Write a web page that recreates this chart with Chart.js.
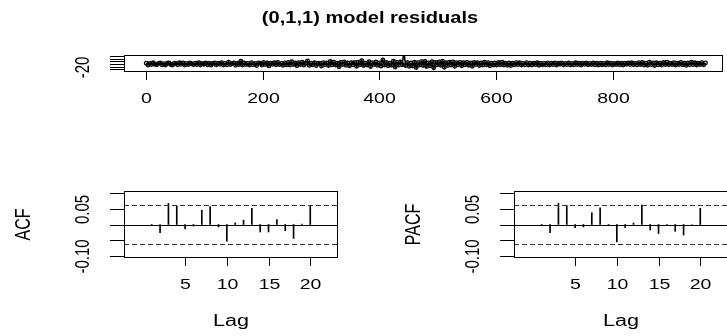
<!DOCTYPE html>
<html>
<head>
<meta charset="utf-8">
<script src="https://cdn.jsdelivr.net/npm/chart.js@4.4.0/dist/chart.umd.min.js"></script>
<style>
  html, body { margin: 0; padding: 0; background: #fff; }
  #wrap { position: relative; width: 727px; height: 336px; overflow: hidden; background: #fff; }
  #wrap canvas { position: absolute; left: 0; top: 0; }
  #title {
    position: absolute; left: 370px; top: 8px; white-space: nowrap;
    font: bold 17px "Liberation Sans", Arial, sans-serif; line-height: 20px; color: #000;
    transform: translateX(-50%) scaleX(1.18);
  }
</style>
</head>
<body>
<div id="wrap">
  <canvas id="resid" width="740" height="336"></canvas>
  <canvas id="acf" width="740" height="336"></canvas>
  <canvas id="pacf" width="740" height="336"></canvas>
  <div id="title">(0,1,1) model residuals</div>
</div>
<script>
// residuals, one reading every 3 time steps
const residStep = 3;
const residuals = [
  6, -8, 3, -5, 9, -2, -7, 4, 8, -6, 2, -9, 5, 7, -4, -8, 6, 3, -6, 9,
  -3, 7, -9, 4, -5, 8, 2, -7, 6, -4, 9, -8, 3, -2, 7, -6, 5, -9, 4, 8,
  -7, 5, -3, 9, -8, 4, -6, 14, -5, 3, 8, -10, 6, -4, 22, -9, 7, -5, 4, -8,
  10, -6, 3, -12, 8, 5, -9, 12, -4, 7, -15, 6, -3, 9, -7, 11, -5, 4, -10, 8,
  -6, 12, -9, 18, -4, 7, -13, 10, -5, 14, -8, 6, 24, -11, 5, -7, 9, -12, 6, 3,
  -16, 10, -5, 8, -12, 20, -6, 14, -9, 5, -22, 12, -4, 16, -10, 7, -14, 9, -6, 11,
  -18, 14, -7, 26, -12, 6, -9, 18, -20, 10, -5, 15, -11, 8, -16, 30, -8, 12, -14, 6,
  -10, 22, -24, 12, -8, 16, -6, 90, -12, 10, -18, 8, -16, 14, -28, 10, -9, 18, -12, 20,
  -20, 8, -14, 18, -30, 12, -6, 16, -10, 22, -26, 9, -12, 14, -8, 15, -18, 10, -6, 12,
  -14, 9, -6, 12, -10, 8, -18, 11, -5, 9, -12, 7, -8, 13, -6, 10, -14, 6, -9, 8,
  -9, 11, -6, 14, -8, 5, -10, 8, -12, 6, -7, 10, -5, 9, -8, 4, -6, 10, -9, 5,
  -8, 6, -4, 9, -10, 5, -7, 4, -6, 8, -9, 6, -4, 7, -8, 5, -3, 8, -6, 4,
  -5, 7, -8, 4, -6, 9, -4, 5, -9, 6, -3, 8, -7, 4, -5, 7, -6, 5, -8, 6,
  -7, 4, -6, 9, -5, 6, -8, 3, -4, 8, -6, 5, -9, 6, -3, 7, -5, 9, -6, 4,
  -6, 10, -4, 12, -8, 6, -10, 14, -5, 8, -12, 9, -6, 5, -8, 11, -4, 13, -7, 6,
  -5, 10, -9, 6, -4, 12, -7, 5, -10, 8, -6, 14, -5, 9, -8, 6, -4, 10, -7, 8
];
const residXTicks = [0, 200, 400, 600, 800];
const residYTicks = [-40, -20, 0, 20, 40, 60];
const residYTickLabels = ['', '-20', '', '', '', ''];

const lags = [1, 2, 3, 4, 5, 6, 7, 8, 9, 10, 11, 12, 13, 14, 15, 16, 17, 18, 19, 20];
const acfValues = [-0.003, -0.026, 0.068, 0.060, -0.014, -0.005, 0.046, 0.057, -0.008, -0.054,
                   0.005, 0.014, 0.052, -0.024, -0.024, 0.016, -0.020, -0.045, 0.001, 0.060];
const pacfValues = [-0.003, -0.026, 0.068, 0.061, -0.010, -0.008, 0.038, 0.054, -0.002, -0.056,
                    -0.010, 0.005, 0.063, -0.018, -0.029, -0.002, -0.022, -0.034, 0.000, 0.052];
const ciBound = 0.0636;
const lagTicks = [5, 10, 15, 20];
const corrTicks = [-0.10, -0.05, 0, 0.05, 0.10];
const corrTickLabels = ['-0.10', '', '', '0.05', ''];

const FONT = '"Liberation Sans", Arial, sans-serif';

function stretchedText(ctx, str, x, y, size, sx, rotate) {
  ctx.save();
  ctx.translate(x, y);
  ctx.scale(sx, 1);
  if (rotate) ctx.rotate(-Math.PI / 2);
  ctx.font = size + 'px ' + FONT;
  ctx.textAlign = 'center';
  ctx.textBaseline = 'middle';
  ctx.fillText(str, 0, 0);
  ctx.restore();
}

// R-style box, ticks and labels drawn from the chart's own scales
const rAxes = {
  id: 'rAxes',
  afterDatasetsDraw(chart, args, o) {
    const { ctx, chartArea: a, scales: { x, y } } = chart;
    ctx.save();
    ctx.strokeStyle = '#000';
    ctx.fillStyle = '#000';
    ctx.lineWidth = 1;

    (o.hLines || []).forEach(h => {
      const py = Math.round(y.getPixelForValue(h.value)) + 0.5;
      ctx.setLineDash(h.dash || []);
      ctx.strokeStyle = h.color || '#000';
      ctx.beginPath();
      ctx.moveTo(a.left, py);
      ctx.lineTo(a.right, py);
      ctx.stroke();
    });
    ctx.setLineDash([]);
    ctx.strokeStyle = '#000';

    ctx.strokeRect(Math.round(a.left) + 0.5, Math.round(a.top) + 0.5,
      Math.round(a.right - a.left) - 1, Math.round(a.bottom - a.top) - 1);

    o.xTicks.forEach(v => {
      const px = Math.round(x.getPixelForValue(v)) + 0.5;
      ctx.beginPath();
      ctx.moveTo(px, a.bottom);
      ctx.lineTo(px, a.bottom + 8);
      ctx.stroke();
      stretchedText(ctx, String(v), px, a.bottom + 27, 15, 1.3, false);
    });

    o.yTicks.forEach((v, i) => {
      const py = Math.round(y.getPixelForValue(v)) + 0.5;
      ctx.beginPath();
      ctx.moveTo(a.left, py);
      ctx.lineTo(a.left - 14, py);
      ctx.stroke();
      if (o.yLabels[i]) stretchedText(ctx, o.yLabels[i], a.left - 40, py, 15, 1.3, true);
    });

    if (o.xTitle) stretchedText(ctx, o.xTitle, (a.left + a.right) / 2, a.bottom + 64, 16, 1.35, false);
    if (o.yTitle) stretchedText(ctx, o.yTitle, a.left - 100, (a.top + a.bottom) / 2, 16, 1.35, true);
    ctx.restore();
  }
};

const baseOptions = (pad, xr, yr, axes) => ({
  responsive: false,
  animation: false,
  devicePixelRatio: 1,
  events: [],
  layout: { padding: pad },
  plugins: { legend: { display: false }, tooltip: { enabled: false }, rAxes: axes },
  scales: {
    x: { type: 'linear', display: false, min: xr[0], max: xr[1] },
    y: { type: 'linear', display: false, min: yr[0], max: yr[1] }
  }
});

new Chart(document.getElementById('resid'), {
  type: 'line',
  data: {
    datasets: [{
      data: residuals.map((v, i) => ({ x: 1 + i * residStep, y: v })),
      borderColor: '#000',
      borderWidth: 1.6,
      pointRadius: 1.8,
      pointBorderWidth: 1.3,
      pointBorderColor: '#000',
      pointBackgroundColor: 'rgba(0,0,0,0)',
      tension: 0
    }]
  },
  options: baseOptions({ left: 124, top: 55, right: 17, bottom: 264 }, [-37, 988], [-62, 69],
    { xTicks: residXTicks, yTicks: residYTicks, yLabels: residYTickLabels }),
  plugins: [rAxes]
});

function corrChart(id, values, pad, yTitle) {
  return new Chart(document.getElementById(id), {
    type: 'bar',
    data: {
      datasets: [{
        data: lags.map((l, i) => ({ x: l, y: values[i] })),
        backgroundColor: '#000',
        barThickness: 1
      }]
    },
    options: baseOptions(pad, [0.24, 20.76], [-0.108, 0.108], {
      xTicks: lagTicks, yTicks: corrTicks, yLabels: corrTickLabels,
      xTitle: 'Lag', yTitle: yTitle,
      hLines: [{ value: 0 }, { value: ciBound, dash: [5, 3], color: '#333' }, { value: -ciBound, dash: [5, 3], color: '#333' }]
    }),
    plugins: [rAxes]
  });
}

corrChart('acf', acfValues, { left: 124, top: 191, right: 402, bottom: 78 }, 'ACF');
corrChart('pacf', pacfValues, { left: 514, top: 191, right: 12, bottom: 78 }, 'PACF');
</script>
</body>
</html>
